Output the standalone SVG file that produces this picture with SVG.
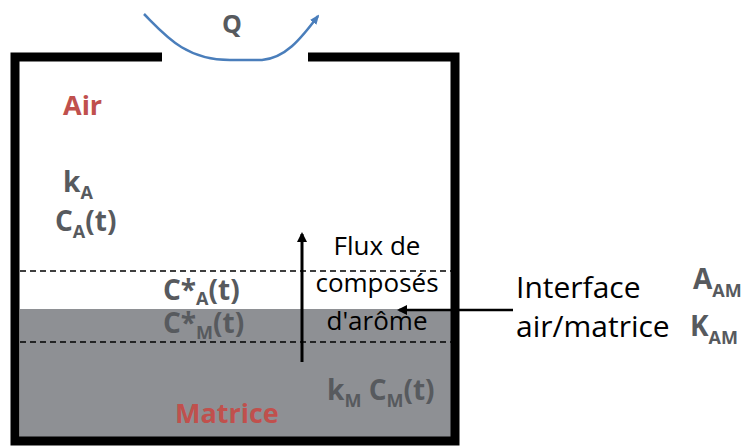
<svg xmlns="http://www.w3.org/2000/svg" width="747" height="446" viewBox="0 0 747 446">
<style>
.lbl{font-family:"Open Sans","Liberation Sans",sans-serif;font-weight:bold;fill:#575a5e;font-size:28px}
.red{font-family:"Open Sans","Liberation Sans",sans-serif;font-weight:bold;fill:#c0504d;font-size:27px}
.txt{font-family:"Open Sans","Liberation Sans",sans-serif;fill:#000;font-size:26px}
.sub{font-size:18px}
.dash{stroke:#000;stroke-width:1.6;stroke-dasharray:6,4;fill:none}
</style>
<defs>
<marker id="ah" markerWidth="10" markerHeight="10" refX="8" refY="5" orient="auto" markerUnits="userSpaceOnUse">
<path d="M0,0 L10,5 L0,10 z" fill="#000"/>
</marker>
<marker id="ahb" markerWidth="10" markerHeight="10" refX="8" refY="5" orient="auto" markerUnits="userSpaceOnUse">
<path d="M0,1 L10,5 L0,9 z" fill="#4a7ebb"/>
</marker>
</defs>
<rect x="0" y="0" width="747" height="446" fill="#fff"/>
<g id="matrix">
<rect x="20" y="309" width="431" height="133" fill="#8e9094"/>
</g>
<g id="container">
<path d="M162,57 H15 V441 H455 V57 H308" fill="none" stroke="#000" stroke-width="9"/>
</g>
<g id="connectors">
<line class="dash" x1="20" y1="271" x2="451" y2="271"/>
<line class="dash" x1="20" y1="342" x2="451" y2="342"/>
<line x1="302" y1="362" x2="302" y2="234" stroke="#000" stroke-width="3" marker-end="url(#ah)"/>
<line x1="513" y1="310" x2="399" y2="310" stroke="#000" stroke-width="2.5" marker-end="url(#ah)"/>
<path d="M144,14 C165,35 185,60 230,60 L262,60 C285,58 300,40 318,16" fill="none" stroke="#4a7ebb" stroke-width="2.5" marker-end="url(#ahb)"/>
</g>
<g id="labels">
<text class="lbl" x="222" y="33" style="font-size:25px">Q</text>
<text class="red" x="63" y="115">Air</text>
<text class="lbl" x="63" y="192">k<tspan class="sub" dy="7">A</tspan></text>
<text class="lbl" x="55" y="231">C<tspan class="sub" dy="7">A</tspan><tspan dy="-7">(t)</tspan></text>
<text class="lbl" x="163" y="300">C*<tspan class="sub" dy="5">A</tspan><tspan dy="-5">(t)</tspan></text>
<text class="lbl" x="163" y="333">C*<tspan class="sub" dy="6">M</tspan><tspan dy="-6">(t)</tspan></text>
<text class="lbl" x="327" y="400">k<tspan class="sub" dy="7">M</tspan><tspan dy="-7"> C</tspan><tspan class="sub" dy="7">M</tspan><tspan dy="-7">(t)</tspan></text>
<text class="red" x="175" y="423">Matrice</text>
<text class="txt" x="377" y="255" text-anchor="middle">Flux de</text>
<text class="txt" x="377" y="292" text-anchor="middle">composés</text>
<text class="txt" x="377" y="330" text-anchor="middle">d'arôme</text>
<text class="txt" x="516" y="298" style="font-size:30px">Interface</text>
<text class="txt" x="516" y="337" style="font-size:30px">air/matrice</text>
<text class="lbl" x="693" y="289">A<tspan class="sub" dy="8">AM</tspan></text>
<text class="lbl" x="690" y="336">K<tspan class="sub" dy="8">AM</tspan></text>
</g>
</svg>
